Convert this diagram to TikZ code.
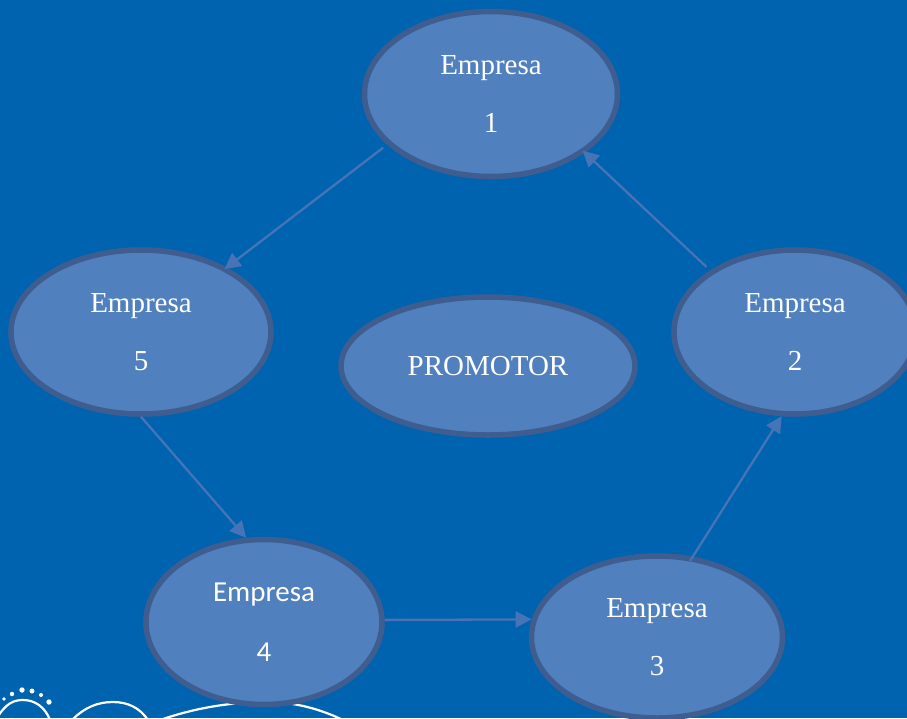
\documentclass[tikz,border=0pt]{standalone}
\usepackage{fontspec}
\setmainfont{Liberation Serif}
\newfontfamily\calibrifont{Carlito}
\usetikzlibrary{arrows.meta,shapes.geometric}
\definecolor{pagebg}{RGB}{0,99,175}
\definecolor{bubblefill}{RGB}{80,128,189}
\definecolor{bubbleedge}{RGB}{63,93,143}
\definecolor{linkcolor}{RGB}{70,116,182}
\tikzset{
  bubble/.style={
    ellipse,
    fill=bubblefill,
    draw=bubbleedge,
    line width=5.5pt,
    inner sep=0pt,
    text=white,
    align=center,
    minimum width={#1},
    font=\fontsize{29}{58}\selectfont,
  },
  link/.style={
    draw=linkcolor,
    line width=2.3pt,
    -{Triangle[length=16pt,width=16pt]},
  },
  wave/.style={
    draw=white,
    line width=2.2pt,
  }
}

\begin{document}
\begin{tikzpicture}[x=1pt,y=-1pt]
        \fill [pagebg] (0,0) rectangle (907,718);
        \clip (0,0) rectangle (907,718);

        % bottom decoration
        \draw [wave] (-3,718) .. controls (6,703) and (14,700) .. (23,700) .. controls (35,700) and (45,707) .. (50,720);
        \draw [wave] (72,720) .. controls (85,707) and (98,702) .. (113,702) .. controls (128,702) and (140,708) .. (148,720);
        \draw [wave] (160,720) .. controls (195,708) and (230,702) .. (267,702) .. controls (295,702) and (320,709) .. (343,720);
        \foreach \px/\py/\pr in {4/699/1.8, 12/694/2.2, 22/690/2.7, 32/691/2.5, 41/695/2, 49/702/2.7}
          \fill [white] (\px,\py) circle (\pr);

        \node [bubble=253pt, minimum height=165pt] (e1) at (491,94) {Empresa\\1};
        \node [bubble=242pt, minimum height=164pt] (e2) at (795,332) {Empresa\\2};
        \node [bubble=251pt, minimum height=162pt] (e3) at (657,637) {Empresa\\3};
        \node [bubble=236pt, minimum height=165pt, font=\calibrifont\fontsize{29}{60}\selectfont] (e4) at (264,622) {Empresa\\4};
        \node [bubble=260pt, minimum height=164pt] (e5) at (141,332) {Empresa\\5};
        \node [bubble=294pt, minimum height=138pt] (promotor) at (488,366) {PROMOTOR};

        \draw [link, shorten <=5pt, shorten >=-3pt] (e1.206) -- (e5.37);
        \draw [link, shorten <=5pt, shorten >=-3pt] (e2.144) -- (e1.-32);
        \draw [link, shorten <=-5pt] (e3.66) -- (e2.-99);
        \draw [link] (e4.1.4) -- (e3.172);
        \draw [link] (e5.270) -- (e4.102);
      \end{tikzpicture}
\end{document}
